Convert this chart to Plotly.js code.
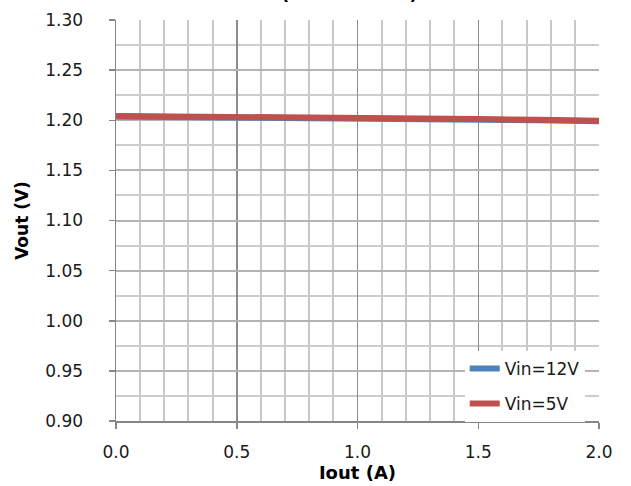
<!DOCTYPE html>
<html>
<head>
<meta charset="utf-8">
<script src="https://cdn.plot.ly/plotly-3.0.1.min.js"></script>
<style>
html,body{margin:0;padding:0;background:#fff;}
#chart{width:631px;height:486px;}
</style>
</head>
<body>
<div id="chart"></div>
<script>
// Data
const iout = [0.0, 0.25, 0.5, 0.75, 1.0, 1.25, 1.5, 1.75, 2.0];
const voutVin12 = [1.2038, 1.2034, 1.2029, 1.2024, 1.2017, 1.2012, 1.2006, 1.1999, 1.1991];
const voutVin5  = [1.2043, 1.2040, 1.2035, 1.2030, 1.2022, 1.2018, 1.2012, 1.2005, 1.1996];
const seriesNames = ["Vin=12V", "Vin=5V"];
const titleText = "(Vout = 1.2V)";
const xTitle = "Iout (A)";
const yTitle = "Vout (V)";

const FAM = "DejaVu Sans, Verdana, sans-serif";
const tickFont = {family: FAM, size: 17, color: "#1a1a1a"};

const traces = [
  {x: iout, y: voutVin12, name: seriesNames[0], type: "scatter", mode: "lines",
   legendgroup: "a", line: {color: "#4F81BD", width: 6}},
  {x: iout, y: voutVin5, name: seriesNames[1], type: "scatter", mode: "lines",
   legendgroup: "b", line: {color: "#C0504D", width: 6}}
];

const layout = {
  width: 631, height: 486,
  margin: {l: 116, r: 32, t: 20, b: 65, pad: 0},
  paper_bgcolor: "#fff", plot_bgcolor: "#fff",
  showlegend: true,
  legend: {x: 0.722, xanchor: "left", y: 0.175, yanchor: "top", bgcolor: "#fff",
           borderwidth: 0, font: {family: FAM, size: 17, color: "#1a1a1a"},
           itemwidth: 30, tracegroupgap: 10},
  xaxis: {
    range: [0, 2], dtick: 0.5, tick0: 0, tickformat: ".1f",
    showgrid: true, gridcolor: "#8c8c8c", gridwidth: 1.5,
    minor: {dtick: 0.1, showgrid: true, gridcolor: "#c8c8c8", gridwidth: 2},
    showline: true, linecolor: "#868686", linewidth: 1.5,
    ticks: "outside", ticklen: 6, tickcolor: "#868686", tickwidth: 1.5,
    tickfont: tickFont, ticklabelstandoff: 9,
    zeroline: false, fixedrange: true,
    title: {text: "<b>" + xTitle + "</b>", font: {family: FAM, size: 18, color: "#000"}, standoff: 0}
  },
  yaxis: {
    range: [0.9, 1.3], dtick: 0.05, tick0: 0.9, tickformat: ".2f",
    showgrid: true, gridcolor: "#b4b4b4", gridwidth: 2,
    minor: {dtick: 0.025, showgrid: true, gridcolor: "#cccccc", gridwidth: 2},
    showline: true, linecolor: "#868686", linewidth: 1.5,
    ticks: "outside", ticklen: 6, tickcolor: "#868686", tickwidth: 1.5,
    tickfont: tickFont, ticklabelstandoff: 22,
    zeroline: false, fixedrange: true,
    title: {text: "<b>" + yTitle + "</b>", font: {family: FAM, size: 17, color: "#000"}, standoff: 12}
  },
  annotations: [
    {text: "<b>" + titleText + "</b>", xref: "paper", yref: "paper", x: 0.483, y: 1.036,
     xanchor: "center", yanchor: "bottom", showarrow: false,
     font: {family: FAM, size: 18, color: "#000"}}
  ]
};

Plotly.newPlot("chart", traces, layout, {staticPlot: true, displayModeBar: false});
</script>
</body>
</html>
